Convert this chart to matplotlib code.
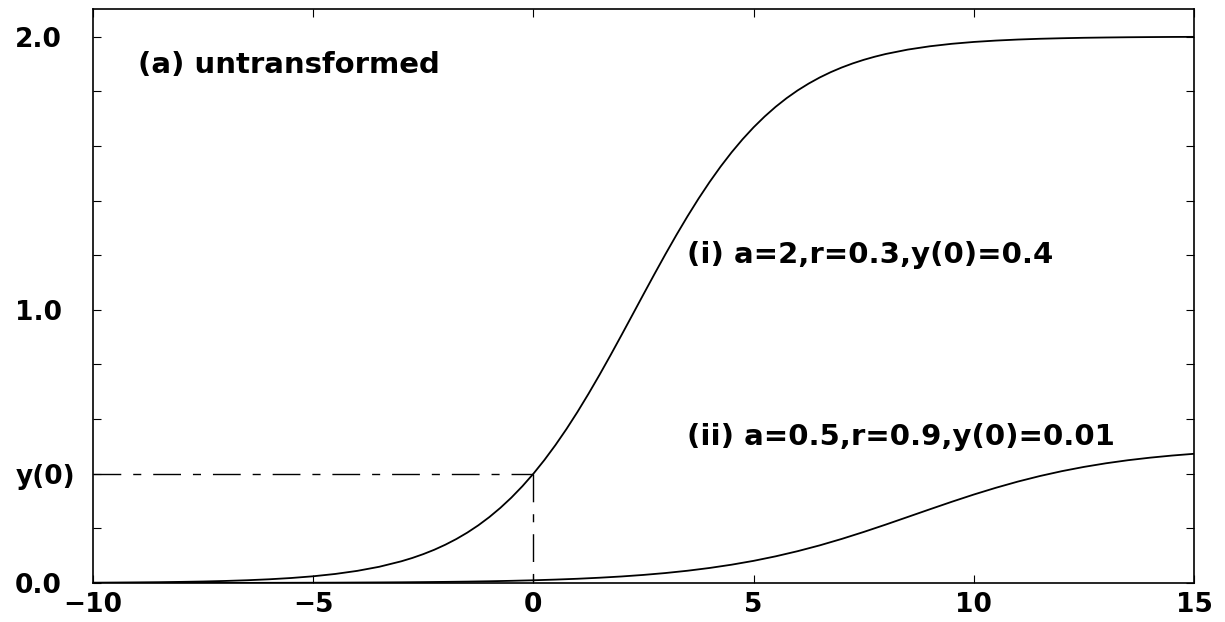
import matplotlib
matplotlib.use("Agg")
import matplotlib.pyplot as plt

plt.rcParams['font.family'] = ['DejaVu Sans']
plt.rcParams['font.weight'] = 'bold'

# curve (i): a=2, y(0)=0.4 -- time values and levels
t_i = [-10.0, -9.5, -9.0, -8.5, -8.0, -7.5, -7.0, -6.5, -6.0, -5.5, -5.0, -4.5, -4.0, -3.5,
       -3.0, -2.75, -2.5, -2.25, -2.0, -1.75, -1.5, -1.25, -1.0, -0.75, -0.5, -0.25,
       0.0, 0.25, 0.5, 0.75, 1.0, 1.25, 1.5, 1.75, 2.0, 2.25, 2.5, 2.75, 3.0, 3.25, 3.5, 3.75,
       4.0, 4.25, 4.5, 4.75, 5.0, 5.25, 5.5, 5.75, 6.0, 6.25, 6.5, 6.75, 7.0, 7.25, 7.5, 7.75,
       8.0, 8.5, 9.0, 9.5, 10.0, 10.5, 11.0, 11.5, 12.0, 12.5, 13.0, 13.5, 14.0, 14.5, 15.0]
y_i = [0.0012, 0.0017, 0.0023, 0.0030, 0.0041, 0.0055, 0.0075, 0.0101, 0.0136, 0.0183, 0.0246, 0.0331, 0.0444, 0.0594,
       0.0794, 0.0916, 0.1057, 0.1217, 0.1401, 0.1609, 0.1845, 0.2112, 0.2413, 0.2750, 0.3125, 0.3542,
       0.4000, 0.4502, 0.5047, 0.5633, 0.6259, 0.6922, 0.7615, 0.8334, 0.9071, 0.9818, 1.0568, 1.1311, 1.2040, 1.2746, 1.3424, 1.4069,
       1.4675, 1.5240, 1.5763, 1.6242, 1.6679, 1.7073, 1.7429, 1.7747, 1.8030, 1.8280, 1.8502, 1.8697, 1.8868, 1.9018, 1.9149, 1.9263,
       1.9363, 1.9524, 1.9645, 1.9736, 1.9804, 1.9854, 1.9892, 1.9920, 1.9940, 1.9956, 1.9967, 1.9976, 1.9982, 1.9987, 1.9990]

# curve (ii): a=0.5, y(0)=0.01
t_ii = [-10.0, -9.5, -9.0, -8.5, -8.0, -7.5, -7.0, -6.5, -6.0, -5.5,
        -5.0, -4.5, -4.0, -3.5, -3.0, -2.5, -2.0, -1.5, -1.0, -0.5,
        0.0, 0.5, 1.0, 1.5, 2.0, 2.5, 3.0, 3.5, 4.0, 4.5,
        5.0, 5.5, 6.0, 6.5, 7.0, 7.5, 8.0, 8.5, 9.0, 9.5,
        10.0, 10.5, 11.0, 11.5, 12.0, 12.5, 13.0, 13.5, 14.0, 14.5, 15.0]
y_ii = [0.0001, 0.0001, 0.0002, 0.0002, 0.0003, 0.0003, 0.0004, 0.0005, 0.0007, 0.0009,
        0.0011, 0.0013, 0.0017, 0.0021, 0.0026, 0.0033, 0.0041, 0.0051, 0.0064, 0.0080,
        0.0100, 0.0125, 0.0155, 0.0193, 0.0239, 0.0296, 0.0365, 0.0449, 0.0550, 0.0670,
        0.0811, 0.0976, 0.1165, 0.1377, 0.1613, 0.1868, 0.2138, 0.2417, 0.2697, 0.2973,
        0.3238, 0.3485, 0.3712, 0.3915, 0.4094, 0.4249, 0.4382, 0.4494, 0.4587, 0.4665, 0.4729]

y0_value = 0.4
t0_value = 0.0

x_ticks = [-10, -5, 0, 5, 10, 15]
x_tick_labels = ['\u221210', '\u22125', '0', '5', '10', '15']
y_ticks = [0.0, 0.2, 0.4, 0.6, 0.8, 1.0, 1.2, 1.4, 1.6, 1.8, 2.0]
y_tick_labels = ['0.0', '', 'y(0)', '', '', '1.0', '', '', '', '', '2.0']

label_a = '(a) untransformed'
label_i = '(i) a=2,r=0.3,y(0)=0.4'
label_ii = '(ii) a=0.5,r=0.9,y(0)=0.01'

fig = plt.figure(figsize=(12.25, 6.22), dpi=100)
ax = fig.add_axes([0.0759, 0.0627, 0.8988, 0.9224])

ax.plot(t_i, y_i, color='black', lw=1.3, solid_joinstyle='round')
ax.plot(t_ii, y_ii, color='black', lw=1.3, solid_joinstyle='round')

dash = (0, (20, 8.6, 5.8, 8.6))
ax.plot([x_ticks[0], t0_value], [y0_value, y0_value], color='black', lw=1.0, linestyle=dash)
ax.plot([t0_value, t0_value], [y0_value, 0.0], color='black', lw=1.0, linestyle=dash)

ax.set_xlim(-10, 15)
ax.set_ylim(0, 2.1)

ax.set_xticks(x_ticks)
ax.set_xticklabels(x_tick_labels, fontsize=19, fontweight='bold')
ax.set_yticks(y_ticks)
ax.set_yticklabels(y_tick_labels, fontsize=19, fontweight='bold')
for lab in ax.get_yticklabels():
    lab.set_horizontalalignment('left')

ax.tick_params(axis='both', which='both', direction='in', length=5.5, width=0.8,
               top=True, right=True)
ax.tick_params(axis='y', pad=56)
ax.tick_params(axis='x', pad=6.5)

for s in ax.spines.values():
    s.set_linewidth(1.2)

ax.text(-8.98, 1.896, label_a, fontsize=21, fontweight='bold', ha='left', va='center')
ax.text(3.495, 1.2017, label_i, fontsize=21, fontweight='bold', ha='left', va='center')
ax.text(3.495, 0.5355, label_ii, fontsize=21, fontweight='bold', ha='left', va='center')

fig.savefig('out.png', dpi=100)
